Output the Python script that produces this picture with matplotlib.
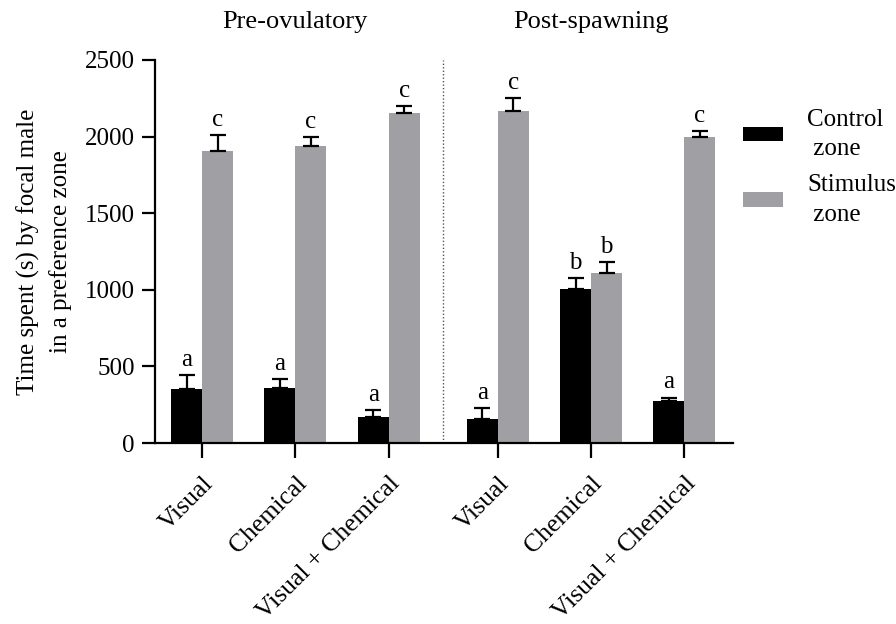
import numpy as np
import matplotlib.pyplot as plt
from matplotlib.transforms import ScaledTranslation

plt.rcParams['font.family'] = ['Liberation Serif', 'DejaVu Serif']

# data
groups = ['Pre-ovulatory', 'Post-spawning']
tick_labels = ['Visual', 'Chemical', 'Visual + Chemical',
               'Visual', 'Chemical', 'Visual + Chemical']
control_mean = [350, 358, 171, 156, 1007, 276]
control_err = [95, 60, 46, 70, 72, 21]
stimulus_mean = [1908, 1936, 2153, 2168, 1109, 1995]
stimulus_err = [104, 61, 43, 82, 74, 39]
control_letters = ['a', 'a', 'a', 'a', 'b', 'a']
stimulus_letters = ['c', 'c', 'c', 'c', 'b', 'c']

pos = np.array([0, 1, 2, 3.17, 4.17, 5.17])
w = 0.332
gray = '#a0a0a4'
fs = 18

fig = plt.figure(figsize=(8.96, 6.24), dpi=100)
ax = fig.add_axes([0.173, 0.290, 0.645, 0.614])

ax.bar(pos, control_mean, width=-w, align='edge', color='black', label='Control\n zone')
ax.bar(pos, stimulus_mean, width=w, align='edge', color=gray, label='Stimulus\n zone')

ekw = dict(fmt='none', ecolor='black', elinewidth=1.6, capsize=5.5, capthick=1.6)
ax.errorbar(pos - w / 2, control_mean, yerr=[np.zeros(6), control_err], **ekw)
ax.errorbar(pos + w / 2, stimulus_mean, yerr=[np.zeros(6), stimulus_err], **ekw)

for i in range(len(pos)):
    ax.annotate(control_letters[i], (pos[i] - w / 2, control_mean[i] + control_err[i]),
                xytext=(0, 3), textcoords='offset points', ha='center', va='bottom', fontsize=fs)
    ax.annotate(stimulus_letters[i], (pos[i] + w / 2, stimulus_mean[i] + stimulus_err[i]),
                xytext=(0, 3), textcoords='offset points', ha='center', va='bottom', fontsize=fs)

ax.axvline(2.58, ymin=0, ymax=1, color='#555555', lw=1, ls=(0, (1, 1.5)))

ax.set_xlim(-0.504, 5.69)
ax.set_ylim(0, 2500)
ax.set_yticks([0, 500, 1000, 1500, 2000, 2500])
ax.set_xticks(pos)
ax.set_xticklabels(tick_labels, rotation=45, ha='right', va='top', rotation_mode='anchor',
                   fontsize=18.5)
shift = ScaledTranslation(-4 / 100, 0, fig.dpi_scale_trans)
for lab in ax.get_xticklabels():
    lab.set_transform(lab.get_transform() + shift)

ax.spines['top'].set_visible(False)
ax.spines['right'].set_visible(False)
ax.spines['left'].set_linewidth(1.6)
ax.spines['bottom'].set_linewidth(1.6)
ax.tick_params(axis='y', length=9.5, width=1.6, labelsize=fs, pad=5)
ax.tick_params(axis='x', length=11, width=1.6, pad=10)

ax.set_ylabel('Time spent (s) by focal male\nin a preference zone', fontsize=fs,
              linespacing=1.5, labelpad=9)

for g, x in zip(groups, [1, 4.17]):
    ax.text(x, 1.1, g, transform=ax.get_xaxis_transform(), ha='center', va='center', fontsize=19)

leg = ax.legend(loc='upper left', bbox_to_anchor=(743 / 896, 0.826), bbox_transform=fig.transFigure,
                frameon=False, fontsize=fs, borderaxespad=0, borderpad=0,
                handlelength=1.6, handleheight=0.52, handletextpad=0.96, labelspacing=0.55)
for t in leg.get_texts():
    t.set_linespacing(1.45)

fig.savefig('out.png', dpi=100)
